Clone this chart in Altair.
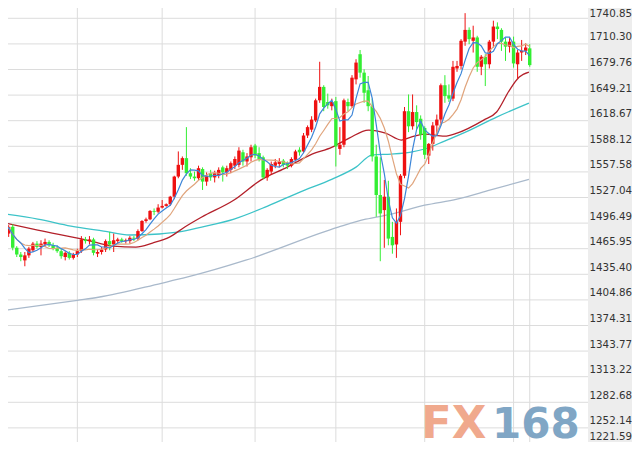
import altair as alt
import pandas as pd

# ---- data (daily candles, index = trading day) ----
opens = [1508,1484,1492,1467,1459,1452,1458,1464,1472,1468,1471,1474,1470,1467,1463,1456,1461,1455,1459,1463,
         1477,1475,1477,1460,1462,1465,1475,1471,1475,1477,1475,1475,1479,1478,1487,1499,1501,1511,1510,1515,
         1517,1519,1528,1552,1566,1574,1556,1552,1550,1561,1546,1556,1551,1554,1563,1557,1560,1565,1566,1581,
         1570,1575,1589,1580,1575,1551,1558,1565,1567,1571,1568,1565,1572,1584,1582,1601,1608,1619,1643,1659,
         1641,1636,1642,1585,1590,1641,1636,1668,1698,1676,1655,1636,1576,1530,1512,1528,1480,1471,1498,1553,
         1630,1612,1629,1621,1610,1577,1591,1613,1620,1661,1649,1645,1681,1684,1713,1727,1714,1718,1683,1695,
         1686,1713,1731,1727,1713,1707,1713,1686,1700,1702,1705]
highs = [1512,1494,1495,1469,1462,1462,1468,1474,1475,1476,1478,1476,1473,1470,1466,1463,1463,1461,1466,1481,
         1480,1481,1479,1465,1468,1477,1486,1484,1479,1479,1478,1481,1481,1489,1500,1503,1512,1514,1519,1524,
         1520,1529,1553,1582,1576,1611,1562,1558,1565,1563,1557,1560,1559,1563,1565,1565,1570,1576,1587,1584,
         1580,1590,1591,1587,1577,1562,1570,1573,1574,1573,1570,1575,1584,1587,1604,1613,1624,1645,1689,1661,
         1651,1645,1647,1611,1645,1645,1673,1692,1703,1680,1672,1645,1590,1575,1548,1547,1498,1514,1555,1635,
         1650,1650,1637,1625,1612,1592,1617,1626,1663,1673,1662,1690,1690,1716,1747,1730,1732,1720,1697,1698,
         1715,1738,1736,1729,1718,1718,1719,1703,1715,1711,1710]
lows = [1486,1480,1464,1456,1451,1445,1455,1462,1466,1458,1468,1468,1464,1461,1454,1452,1453,1453,1456,1461,
        1472,1471,1458,1456,1459,1462,1464,1462,1472,1473,1472,1472,1475,1476,1486,1497,1500,1506,1508,1514,
        1516,1517,1525,1550,1560,1553,1549,1547,1548,1536,1541,1547,1545,1550,1546,1552,1556,1561,1563,1565,
        1564,1570,1574,1570,1549,1547,1554,1562,1563,1563,1561,1563,1570,1577,1580,1598,1605,1617,1640,1630,
        1633,1631,1564,1578,1587,1630,1634,1662,1670,1640,1630,1570,1504,1451,1467,1470,1460,1455,1482,1550,
        1605,1608,1609,1596,1573,1567,1583,1601,1613,1640,1641,1642,1677,1680,1708,1710,1700,1677,1673,1660,
        1681,1706,1716,1702,1690,1700,1682,1669,1690,1697,1683]
closes = [1490,1492,1467,1459,1456,1458,1466,1472,1468,1472,1474,1470,1466,1463,1457,1461,1455,1459,1463,1477,
          1475,1477,1461,1462,1465,1475,1471,1476,1477,1475,1476,1479,1478,1487,1499,1501,1511,1510,1515,1517,
          1519,1528,1552,1566,1574,1556,1552,1550,1562,1546,1553,1551,1556,1560,1557,1562,1568,1573,1583,1570,
          1576,1587,1577,1573,1551,1560,1567,1569,1570,1566,1565,1573,1582,1581,1601,1611,1620,1643,1659,1635,
          1637,1641,1588,1590,1643,1636,1670,1688,1676,1652,1636,1576,1530,1508,1528,1478,1470,1498,1553,1630,
          1612,1629,1617,1602,1578,1591,1613,1620,1661,1648,1645,1683,1684,1714,1727,1716,1718,1683,1695,1686,
          1713,1731,1728,1713,1707,1713,1687,1700,1702,1706,1685]

# longer moving averages (index, price)
ma20_idx = [0.1, 8.2, 20.3, 26.9, 32.5, 36.6, 40.8, 44.6, 48.8, 56.8, 63.4, 70.0, 75.6, 81.1, 85.3, 90.1, 94.3, 98.2, 100.6, 104.0, 108.9, 112.0, 118.6, 121.8, 125.0, 127.4, 129.8]
ma20_val = [1496.6, 1488.2, 1476.3, 1469.0, 1467.9, 1472.7, 1479.8, 1491.8, 1503.7, 1524.0, 1547.8, 1563.3, 1577.7, 1587.2, 1597.9, 1607.5, 1603.9, 1595.6, 1599.1, 1602.7, 1600.3, 1603.9, 1619.4, 1629.0, 1655.2, 1670.7, 1676.7]
ma60_idx = [0.1, 8.2, 16.4, 24.5, 31.0, 38.3, 43.2, 48.8, 56.8, 65.1, 73.1, 81.1, 87.0, 90.9, 95.7, 100.6, 104.0, 108.9, 115.2, 121.8, 129.8]
ma60_val = [1507.3, 1501.3, 1493.0, 1487.0, 1482.3, 1483.5, 1485.9, 1491.8, 1501.3, 1516.8, 1533.5, 1549.0, 1563.3, 1577.7, 1578.9, 1581.3, 1584.9, 1594.4, 1607.5, 1623.0, 1639.7]
ma120_idx = [0.1, 18.0, 23.2, 38.8, 45.1, 59.7, 82.6, 89.4, 95.7, 104.0, 112.0, 120.1, 129.8]
ma120_val = [1392.5, 1404.4, 1408.0, 1424.7, 1431.9, 1452.2, 1491.6, 1501.1, 1507.1, 1517.8, 1525.0, 1535.7, 1548.8]

tick_vals = [1221.59, 1252.14, 1282.68, 1313.22, 1343.77, 1374.31, 1404.86, 1435.40, 1465.95,
             1496.49, 1527.04, 1557.58, 1588.12, 1618.67, 1649.21, 1679.76, 1710.30, 1740.85]
tick_labels = ["1221.59", "1252.14", "1282.68", "1313.22", "1343.77", "1374.31", "1404.86", "1435.40", "1465.95",
               "1496.49", "1527.04", "1557.58", "1588.12", "1618.67", "1649.21", "1679.76", "1710.30", "1740.85"]
month_lines = [18, 39, 62, 82, 104, 126, 130]
logo_parts = ["FX", "168"]

TOTW, H = 624, 434
PW = 580  # plot area width (label strip on the right)
RED, GREEN = "#ee1111", "#33ee33"

candles = pd.DataFrame({"i": list(range(len(opens))), "o": opens, "h": highs, "l": lows, "c": closes})
ma20 = pd.DataFrame({"i": ma20_idx, "v": ma20_val})
ma60 = pd.DataFrame({"i": ma60_idx, "v": ma60_val})
ma120 = pd.DataFrame({"i": ma120_idx, "v": ma120_val})
ticks = pd.DataFrame({"t": tick_vals, "lab": tick_labels})
months = pd.DataFrame({"m": month_lines})
one = pd.DataFrame({"k": [0]})

xs = alt.Scale(domain=[2.068, 143.19], range=[0, PW], zero=False, nice=False)
ys = alt.Scale(domain=[1235.3, 1753.14], zero=False, nice=False)

def X(f):
    return alt.X(f, type="quantitative", scale=xs, axis=None)

def Y(f):
    return alt.Y(f, type="quantitative", scale=ys, axis=None)

strip = alt.Chart(one).mark_rect(color="#ededed").encode(
    x=alt.value(PW), x2=alt.value(TOTW), y=alt.value(0), y2=alt.value(H))

hgrid = alt.Chart(ticks).mark_rule(color="#dcdcdc", strokeWidth=1, clip=True).encode(
    y=Y("t"), x=alt.value(0), x2=alt.value(PW))

vgrid = alt.Chart(months).mark_rule(color="#dcdcdc", strokeWidth=1, clip=True).encode(
    x=X("m"), y=alt.value(0), y2=alt.value(H))

def label_layer(cond, dy):
    return alt.Chart(ticks).transform_filter(cond).mark_text(
        font="DejaVu Sans", fontSize=10.3, color="#333333", align="left", baseline="alphabetic", dy=dy
    ).encode(y=Y("t"), x=alt.value(PW + 1.5), text="lab:N")

labels_main = label_layer("datum.t > 1230 && datum.t < 1730", -3.5)
labels_top = label_layer("datum.t > 1730", -1.5)
labels_low = label_layer("datum.t < 1230", -13.5)

def logo(txt, x, size, color):
    return alt.Chart(one).mark_text(text=txt, font="DejaVu Sans", fontWeight="bold", fontSize=size,
                                    align="left", baseline="alphabetic", color=color).encode(
        x=alt.value(x), y=alt.value(430))

wm = [logo(logo_parts[0], 413, 45, "#f0a98d"),
      logo(logo_parts[1], 484, 42, "#80a6c5")]

col = alt.condition("datum.c >= datum.o", alt.value(RED), alt.value(GREEN))
wick = alt.Chart(candles).mark_rule(strokeWidth=1, clip=True).encode(
    x=X("i"), y=Y("l"), y2="h:Q", color=col)
body = alt.Chart(candles).mark_bar(size=3.4, clip=True).encode(
    x=X("i"), y=Y("o"), y2="c:Q", color=col)

def line(df, color, w=1.3):
    return alt.Chart(df).mark_line(color=color, strokeWidth=w, clip=True, interpolate="monotone").encode(
        x=X("i"), y=Y("v"))

ma5 = alt.Chart(candles).transform_window(
    v="mean(c)", frame=[-4, 0], sort=[alt.SortField("i")]
).mark_line(color="#3d86d8", strokeWidth=1.2, clip=True).encode(x=X("i"), y=Y("v"))
ma10 = alt.Chart(candles).transform_window(
    v="mean(c)", frame=[-9, 0], sort=[alt.SortField("i")]
).mark_line(color="#e0a47c", strokeWidth=1.2, clip=True).encode(x=X("i"), y=Y("v"))

chart = alt.layer(
    strip, hgrid, vgrid, *wm,
    line(ma120, "#a9b9cb"), line(ma60, "#3cc3c8"), line(ma20, "#b3202a"),
    wick, body, ma10, ma5, labels_main, labels_top, labels_low
).properties(
    width=TOTW, height=H, padding=0, autosize=alt.AutoSizeParams(type="none")
).configure_view(stroke=None)

chart.save("out.html", embed_options={"renderer": "svg", "actions": False})
